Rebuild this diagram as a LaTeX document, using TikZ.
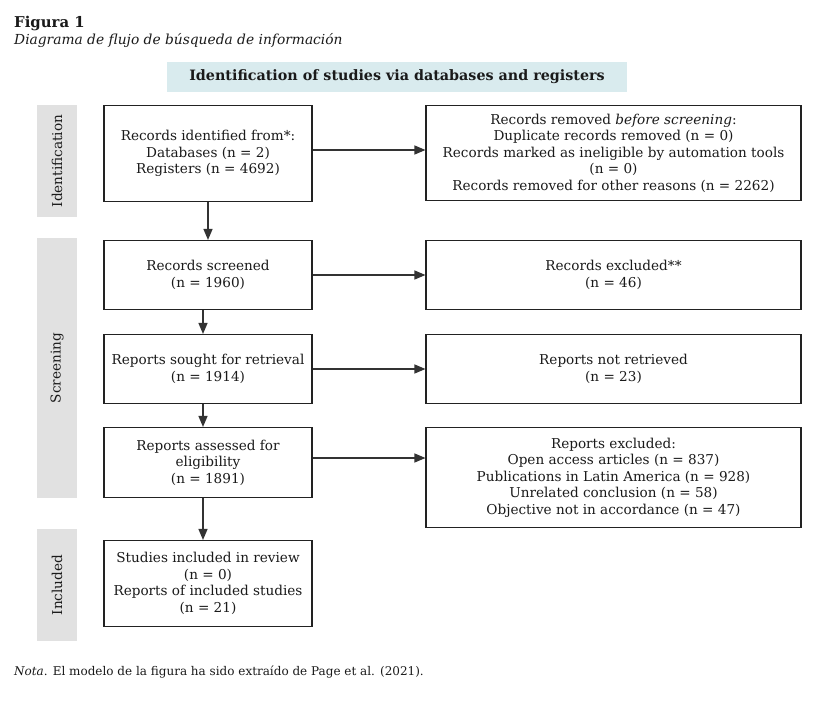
\documentclass[tikz,border=0pt]{standalone}
\usepackage{fontspec}
\setmainfont{DejaVu Serif}
\usetikzlibrary{arrows.meta}
\definecolor{bannerblue}{HTML}{D9EBEE}
\definecolor{bargray}{HTML}{E1E1E1}
\definecolor{linecol}{HTML}{222222}
\definecolor{arrowcol}{HTML}{333333}
\definecolor{txtcol}{HTML}{1A1A1A}
\begin{document}
\begin{tikzpicture}[x=1pt,y=-1pt,
  every node/.style={text=txtcol},
  flowbox/.style={draw=linecol, line width=1.1pt, fill=white, inner sep=0pt, align=center,
    font=\fontsize{13.6}{16.5}\selectfont},
  phasebar/.style={fill=bargray, draw=none, inner sep=0pt, rotate=90,
    minimum height=40pt, font=\fontsize{13.6}{15}\selectfont},
  flowarrow/.style={draw=arrowcol, line width=1.2pt, -{Triangle[length=11pt,width=9pt]}},
]
\useasboundingbox[fill=white] (0,0) rectangle (816,702);

% titles
\node[anchor=base west, inner sep=0pt, font=\fontsize{14.9}{17}\selectfont\bfseries] (fig) at (14,27) {Figura 1};
\node[anchor=base west, inner sep=0pt, font=\fontsize{13.8}{16}\selectfont\itshape] (sub) at (14,44) {Diagrama de flujo de búsqueda de información};

% banner
\node[fill=bannerblue, minimum width=460pt, minimum height=30pt, inner sep=0pt,
  font=\fontsize{14.3}{16}\selectfont\bfseries] (banner) at (397,77) {Identification of studies via databases and registers};

% phase bars
\node[phasebar, minimum width=112pt] (barid) at (57,161) {Identification};
\node[phasebar, minimum width=260pt] (barsc) at (57,368) {Screening};
\node[phasebar, minimum width=112pt] (barin) at (57,585) {Included};

% left column
\node[flowbox, minimum width=208pt, minimum height=96pt] (idf) at (208,153.5)
  {Records identified from*:\\Databases (n = 2)\\Registers (n = 4692)};
\node[flowbox, minimum width=208pt, minimum height=69pt] (scr) at (208,275)
  {Records screened\\(n = 1960)};
\node[flowbox, minimum width=208pt, minimum height=69pt] (sou) at (208,369)
  {Reports sought for retrieval\\(n = 1914)};
\node[flowbox, minimum width=208pt, minimum height=70pt] (ass) at (208,462.5)
  {Reports assessed for\\eligibility\\(n = 1891)};
\node[flowbox, minimum width=208pt, minimum height=86pt] (inc) at (208,583.5)
  {Studies included in review\\(n = 0)\\Reports of included studies\\(n = 21)};

% right column
\node[flowbox, minimum width=375pt, minimum height=95pt] (rem) at (613.5,153)
  {Records removed \emph{before screening}:\\Duplicate records removed (n = 0)\\Records marked as ineligible by automation tools\\(n = 0)\\Records removed for other reasons (n = 2262)};
\node[flowbox, minimum width=375pt, minimum height=69pt] (exc) at (613.5,275)
  {Records excluded**\\(n = 46)};
\node[flowbox, minimum width=375pt, minimum height=69pt] (nr) at (613.5,369)
  {Reports not retrieved\\(n = 23)};
\node[flowbox, minimum width=375pt, minimum height=100pt] (rex) at (613.5,477.5)
  {Reports excluded:\\Open access articles (n = 837)\\Publications in Latin America (n = 928)\\Unrelated conclusion (n = 58)\\Objective not in accordance (n = 47)};

% note
\node[anchor=base west, inner sep=0pt, font=\fontsize{12}{14}\selectfont] (nota) at (14,675)
  {\emph{Nota}. El modelo de la figura ha sido extraído de Page et al. (2021).};

% horizontal arrows
\draw[flowarrow] ([yshift=3.5pt]idf.east) -- ([yshift=3.5pt]idf.east -| rem.west);
\draw[flowarrow] (scr.east) -- (exc.west);
\draw[flowarrow] (sou.east) -- (nr.west);
\draw[flowarrow] ([yshift=4.5pt]ass.east) -- ([yshift=4.5pt]ass.east -| rex.west);

% vertical arrows
\draw[flowarrow] (idf.south) -- (scr.north);
\draw[flowarrow] ([xshift=-5pt]scr.south) -- ([xshift=-5pt]sou.north);
\draw[flowarrow] ([xshift=-5pt]sou.south) -- ([xshift=-5pt]ass.north);
\draw[flowarrow] ([xshift=-5pt]ass.south) -- ([xshift=-5pt]inc.north);
\end{tikzpicture}
\end{document}
